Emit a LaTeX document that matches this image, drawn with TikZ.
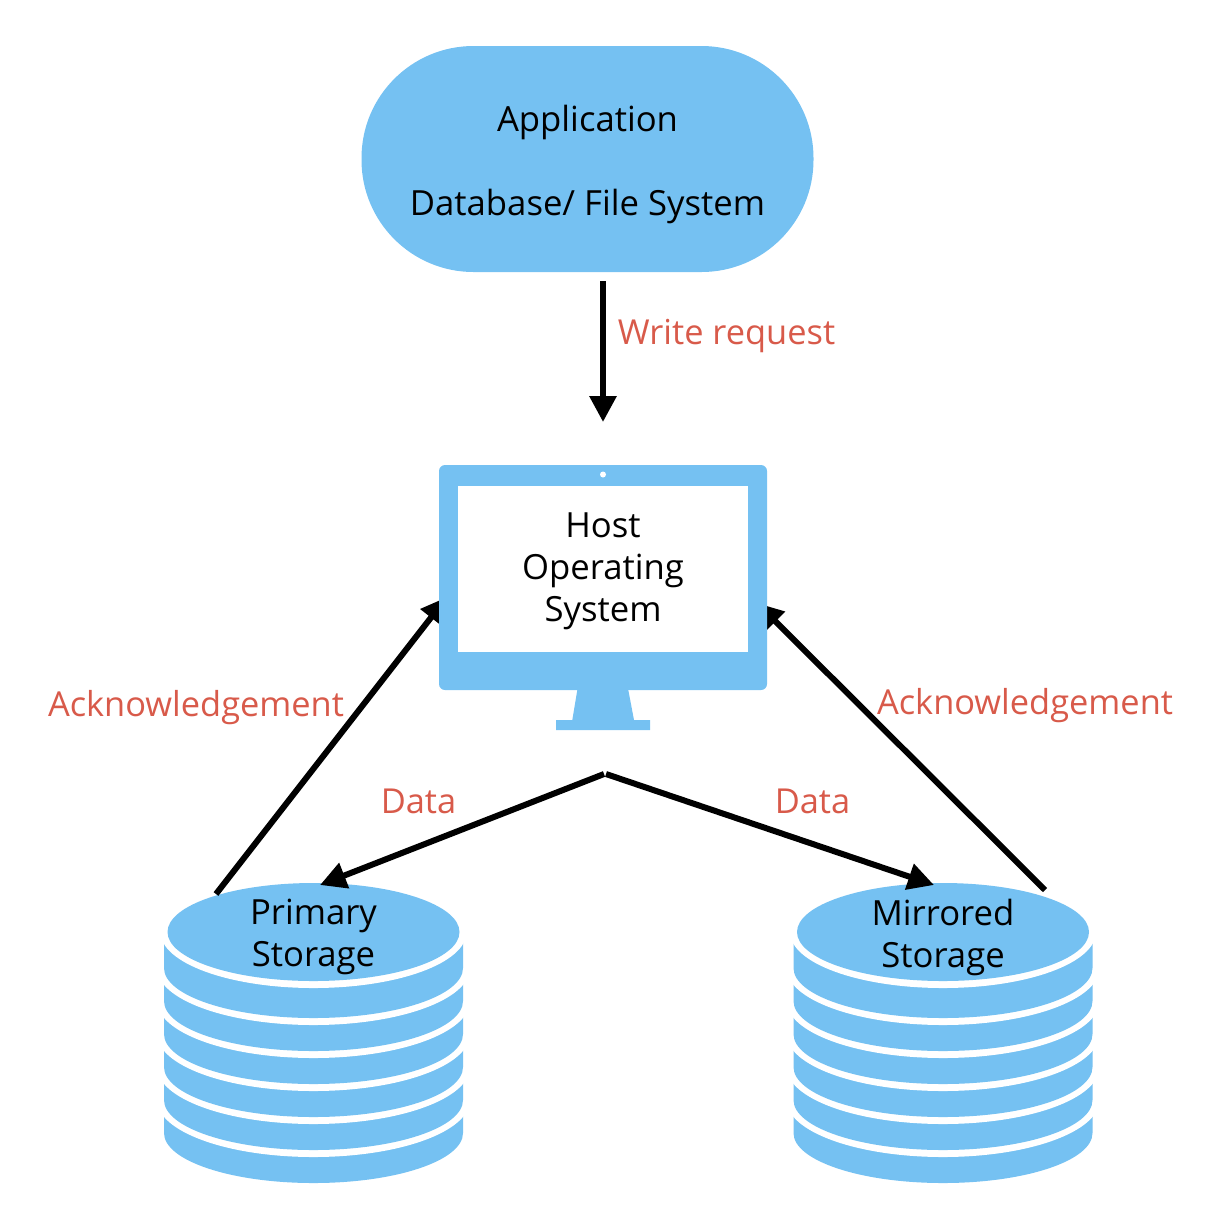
\documentclass[tikz,border=0pt]{standalone}
\usepackage{fontspec}
\setmainfont{Open Sans}
\usetikzlibrary{arrows.meta}
\definecolor{diskblue}{HTML}{75C1F2}
\definecolor{notered}{HTML}{D85A4A}
\tikzset{
  box/.style={inner sep=0pt,align=center,font=\fontsize{26}{31.5}\selectfont},
  note/.style={inner sep=0pt,text=notered,font=\fontsize{25.8}{31.5}\selectfont},
  link/.style={line width=4.5pt,-{Triangle[length=19.5pt,width=19.5pt]},shorten >=0pt},
}
\begin{document}
\begin{tikzpicture}[x=0.75pt,y=-0.75pt]
\useasboundingbox (0,0) rectangle (1212,1208);
% storage stacks
\foreach \cx in {313.5,943} {
  \foreach \cy in {1133,1100,1067,1034,1001,968} {
    \fill[white] (\cx,\cy) ellipse [x radius=156.5,y radius=57];
    \fill[diskblue] (\cx-149.5,\cy-40) -- (\cx-149.5,\cy) arc [start angle=180,end angle=360,x radius=149.5,y radius=-50] -- (\cx+149.5,\cy-40) -- cycle;
  }
  \fill[white] (\cx,932) ellipse [x radius=153,y radius=56];
  \fill[diskblue] (\cx,932) ellipse [x radius=146,y radius=49];
}
\node[fill=diskblue,minimum width=339pt,minimum height=169.5pt,rounded corners=84pt] (app) at (587.5,159) {};
\node[box] (apptext) at (587.5,164) {Application\\[31.5pt]Database/ File System};
\node[box] (primary) at (313.5,937) {Primary\\Storage};
\node[box] (mirrored) at (943,937) {Mirrored\\Storage};
\coordinate (w_0) at (603,281);
\coordinate (w_1) at (603,422);
\coordinate (a_0) at (216,894);
\coordinate (a_1) at (447,597);
\coordinate (b_0) at (1045,890);
\coordinate (b_1) at (757,603);
\coordinate (d_0) at (604,774);
\coordinate (d_1) at (320,885);
\coordinate (e_0) at (606,774);
\coordinate (e_1) at (934,885);
\path[link]
  (w_0) edge node {} (w_1)
  (a_0) edge node {} (a_1)
  (b_0) edge node {} (b_1)
  (d_0) edge node {} (d_1)
  (e_0) edge node {} (e_1)
  ;
% monitor
\fill[diskblue] (577.3,690) -- (572.3,720) -- (556,720) -- (556,730) -- (650,730) -- (650,720) -- (634,720) -- (628.3,690) -- cycle;
\node[fill=diskblue,inner sep=0pt,minimum width=246pt,minimum height=168.75pt,rounded corners=4.5pt] (monitor) at (603,577.5) {};
\node[fill=white,inner sep=0pt,minimum width=217.5pt,minimum height=124.5pt] (host) at (603,569) {};
\node[box] (hosttext) at (603,571) {Host\\Operating\\System};
\fill[white] (603,474.5) circle [radius=3];
\node[note] (write) at (726.5,336) {Write request};
\node[note] (ackleft) at (196,708) {Acknowledgement};
\node[note] (ackright) at (1025,706) {Acknowledgement};
\node[note] (dataleft) at (418.5,801) {Data};
\node[note] (dataright) at (812.5,801) {Data};
\end{tikzpicture}
\end{document}
